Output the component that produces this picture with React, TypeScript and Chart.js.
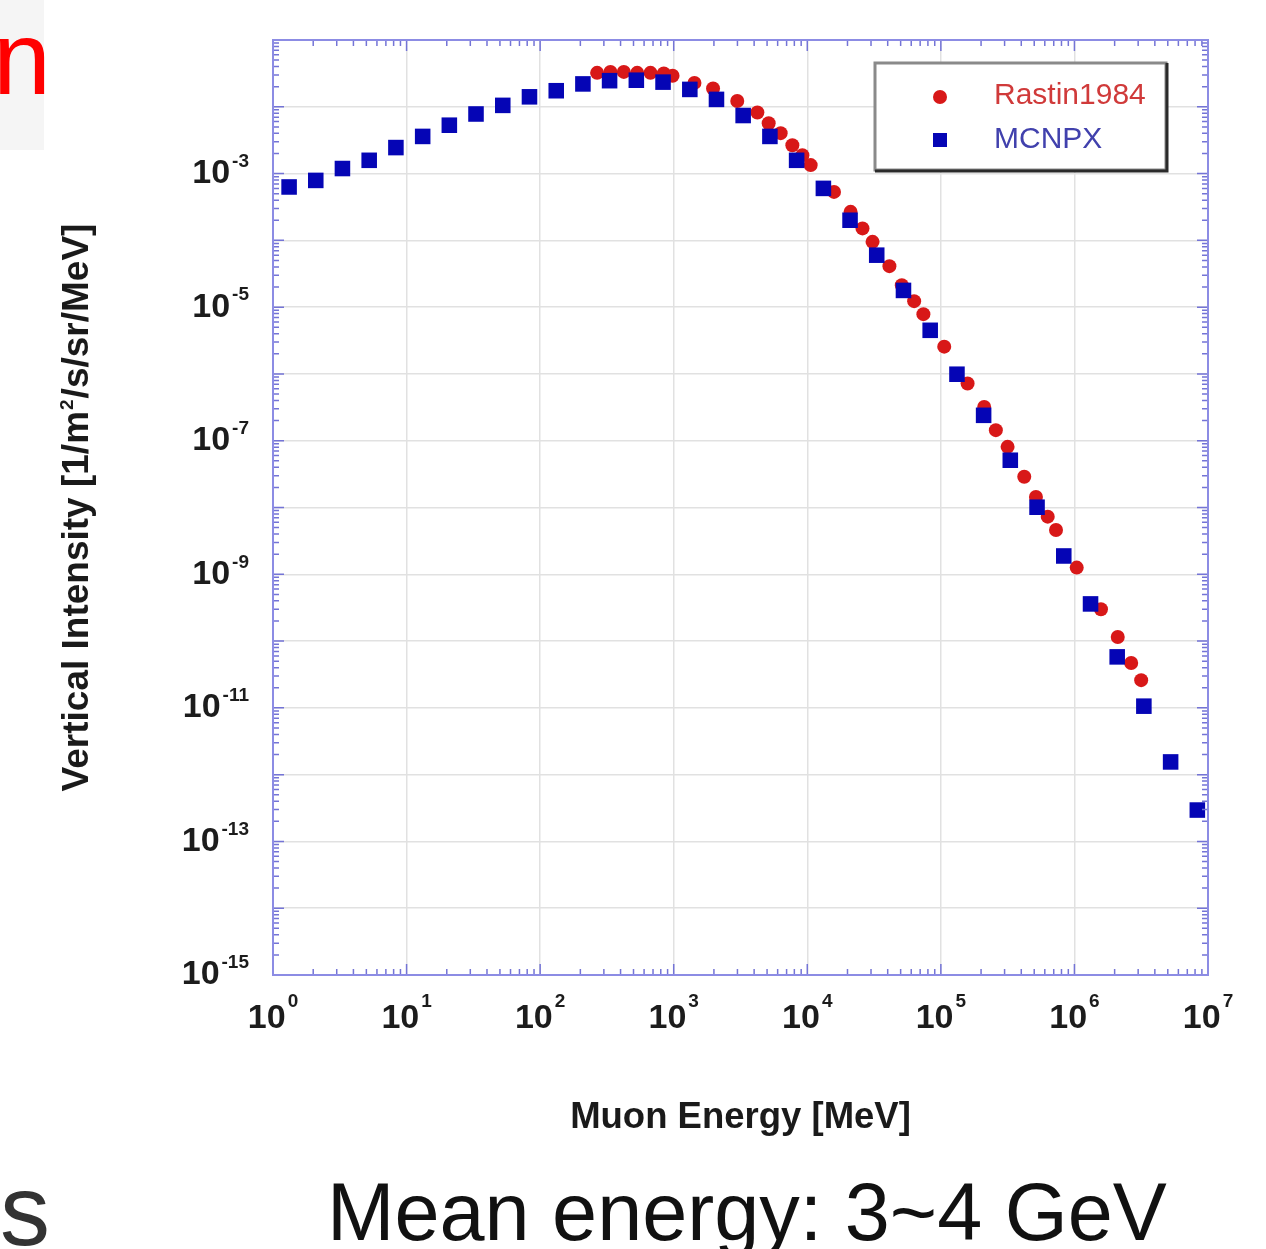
import React, { useEffect, useRef } from "react";
import { Chart, registerables } from "chart.js";

Chart.register(...registerables);

// ---- data ----
const seriesNames = ["Rastin1984", "MCNPX"];

const mcnpxEnergy = [
  1.32, 2.09, 3.31, 5.25, 8.32, 13.2, 20.9, 33.1, 52.5, 83.2, 132, 209, 331, 525, 832,
  1320, 2090, 3310, 5250, 8320, 13200, 20900, 33100, 52500, 83200, 132000, 209000,
  331000, 525000, 832000, 1320000, 2090000, 3310000, 5250000, 8320000,
];
const mcnpxIntensity = [
  6.3e-4, 7.9e-4, 1.19e-3, 1.58e-3, 2.45e-3, 3.6e-3, 5.3e-3, 7.8e-3, 1.05e-2, 1.41e-2,
  1.74e-2, 2.2e-2, 2.46e-2, 2.5e-2, 2.34e-2, 1.82e-2, 1.29e-2, 7.4e-3, 3.6e-3, 1.58e-3,
  6.0e-4, 2.0e-4, 6.0e-5, 1.78e-5, 4.5e-6, 9.9e-7, 2.4e-7, 5.1e-8, 1.01e-8, 1.88e-9,
  3.6e-10, 5.8e-11, 1.06e-11, 1.55e-12, 2.95e-13,
];

const rastinEnergy = [
  267, 336, 423, 533, 670, 843, 980, 1430, 1970, 2990, 4230, 5140, 6320, 7730, 9190,
  10600, 15850, 21100, 25900, 30800, 41200, 51000, 63100, 74000, 106000, 158500, 211000,
  258000, 316000, 421000, 515000, 631000, 728000, 1040000, 1580000, 2110000, 2660000,
  3160000,
];
const rastinIntensity = [
  3.22e-2, 3.33e-2, 3.33e-2, 3.22e-2, 3.22e-2, 3.15e-2, 2.92e-2, 2.28e-2, 1.88e-2,
  1.22e-2, 8.2e-3, 5.67e-3, 4.03e-3, 2.66e-3, 1.88e-3, 1.34e-3, 5.32e-4, 2.67e-4,
  1.51e-4, 9.5e-5, 4.11e-5, 2.13e-5, 1.23e-5, 7.85e-6, 2.56e-6, 7.2e-7, 3.21e-7,
  1.44e-7, 8.1e-8, 2.88e-8, 1.44e-8, 7.3e-9, 4.6e-9, 1.26e-9, 3.0e-10, 1.15e-10,
  4.7e-11, 2.6e-11,
];

const xTickExponents = [0, 1, 2, 3, 4, 5, 6, 7];
const yTickExponents = [-3, -5, -7, -9, -11, -13, -15];
const xGridExponents = [0, 1, 2, 3, 4, 5, 6, 7];
const yGridExponents = [-15, -14, -13, -12, -11, -10, -9, -8, -7, -6, -5, -4, -3, -2, -1];

const xAxisTitle = "Muon Energy [MeV]";
const yAxisTitleParts = ["Vertical Intensity [1/m", "2", "/s/sr/MeV]"];
const footerText = "Mean energy: 3~4 GeV";
const cornerTopText = "n";
const cornerBottomText = "s";

const FONT = '"Liberation Sans", Arial, Helvetica, sans-serif';

const RED = "#d81818";
const BLUE = "#0505b5";

const decorPlugin = {
  id: "decor",
  afterDraw(chart: any) {
    const { ctx, chartArea: ca, scales } = chart;
    const xs = scales.x;
    const ys = scales.y;
    ctx.save();

    // ----- frame ticks (inward, all four sides) -----
    ctx.strokeStyle = "#7474d6";
    ctx.lineWidth = 1.5;
    ctx.beginPath();
    for (let d = 0; d <= 7; d++) {
      for (let m = 1; m <= 9; m++) {
        if (d === 7 && m > 1) break;
        const v = m * Math.pow(10, d);
        const px = xs.getPixelForValue(v);
        const len = m === 1 ? 11 : 6;
        ctx.moveTo(px, ca.bottom);
        ctx.lineTo(px, ca.bottom - len);
        ctx.moveTo(px, ca.top);
        ctx.lineTo(px, ca.top + len);
      }
    }
    for (let d = -15; d <= -1; d++) {
      for (let m = 1; m <= 9; m++) {
        if (d === -1 && m > 1) break;
        const v = m * Math.pow(10, d);
        const py = ys.getPixelForValue(v);
        const len = m === 1 ? 11 : 6;
        ctx.moveTo(ca.left, py);
        ctx.lineTo(ca.left + len, py);
        ctx.moveTo(ca.right, py);
        ctx.lineTo(ca.right - len, py);
      }
    }
    ctx.stroke();

    // ----- frame -----
    ctx.strokeStyle = "#8c8ce4";
    ctx.lineWidth = 2;
    ctx.strokeRect(ca.left, ca.top, ca.right - ca.left, ca.bottom - ca.top);

    // ----- tick labels -----
    ctx.fillStyle = "#1c1c1c";
    const bigTick = `bold 34px ${FONT}`;
    const supTick = `bold 19px ${FONT}`;
    // x
    for (const e of xTickExponents) {
      const px = xs.getPixelForValue(Math.pow(10, e));
      ctx.font = bigTick;
      const w10 = ctx.measureText("10").width;
      ctx.font = supTick;
      const we = ctx.measureText(String(e)).width;
      const start = px - (w10 + 2 + we) / 2;
      ctx.textAlign = "left";
      ctx.textBaseline = "middle";
      ctx.font = bigTick;
      ctx.fillText("10", start, ca.bottom + 44);
      ctx.font = supTick;
      ctx.fillText(String(e), start + w10 + 2, ca.bottom + 27);
    }
    // y
    const yRight = ca.left - 24;
    for (const e of yTickExponents) {
      const py = ys.getPixelForValue(Math.pow(10, e));
      ctx.font = supTick;
      const es = String(e);
      const we = ctx.measureText(es).width;
      ctx.textAlign = "right";
      ctx.textBaseline = "middle";
      ctx.fillText(es, yRight, py - 12);
      ctx.font = bigTick;
      ctx.fillText("10", yRight - we - 2, py);
    }

    // ----- axis titles -----
    ctx.fillStyle = "#1a1a1a";
    ctx.font = `bold 36.5px ${FONT}`;
    ctx.textAlign = "center";
    ctx.textBaseline = "alphabetic";
    ctx.fillText(xAxisTitle, (ca.left + ca.right) / 2, ca.bottom + 153);

    ctx.save();
    ctx.translate(ca.left - 185, (ca.top + ca.bottom) / 2);
    ctx.rotate(-Math.PI / 2);
    const big = `bold 37px ${FONT}`;
    const small = `bold 19px ${FONT}`;
    ctx.font = big;
    const w0 = ctx.measureText(yAxisTitleParts[0]).width;
    const w2 = ctx.measureText(yAxisTitleParts[2]).width;
    ctx.font = small;
    const w1 = ctx.measureText(yAxisTitleParts[1]).width;
    const total = w0 + w1 + w2 + 2;
    let cx = -total / 2;
    ctx.textAlign = "left";
    ctx.font = big;
    ctx.fillText(yAxisTitleParts[0], cx, 0);
    cx += w0 + 1;
    ctx.font = small;
    ctx.fillText(yAxisTitleParts[1], cx, -15);
    cx += w1 + 1;
    ctx.font = big;
    ctx.fillText(yAxisTitleParts[2], cx, 0);
    ctx.restore();

    // ----- legend -----
    const lx = ca.right - 333;
    const ly = ca.top + 23;
    const lw = 291;
    const lh = 107;
    ctx.fillStyle = "#ffffff";
    ctx.fillRect(lx, ly, lw, lh);
    ctx.strokeStyle = "#8a8a8a";
    ctx.lineWidth = 3;
    ctx.strokeRect(lx, ly, lw, lh);
    ctx.strokeStyle = "#2a2a2a";
    ctx.lineWidth = 3;
    ctx.beginPath();
    ctx.moveTo(lx, ly + lh + 1);
    ctx.lineTo(lx + lw + 1, ly + lh + 1);
    ctx.lineTo(lx + lw + 1, ly);
    ctx.stroke();

    ctx.fillStyle = RED;
    ctx.beginPath();
    ctx.arc(lx + 65, ly + 34, 7, 0, Math.PI * 2);
    ctx.fill();
    ctx.fillStyle = BLUE;
    ctx.fillRect(lx + 58, ly + 70, 14, 14);

    ctx.font = `30px ${FONT}`;
    ctx.textAlign = "left";
    ctx.textBaseline = "middle";
    ctx.fillStyle = "#d03a3a";
    ctx.fillText(seriesNames[0], lx + 119, ly + 33);
    ctx.fillStyle = "#4141ad";
    ctx.fillText(seriesNames[1], lx + 119, ly + 77);

    ctx.restore();
  },
};

export default function App() {
  const canvasRef = useRef<HTMLCanvasElement>(null);

  useEffect(() => {
    const canvas = canvasRef.current;
    if (!canvas) return;
    const chart = new Chart(canvas, {
      type: "scatter",
      data: {
        datasets: [
          {
            label: seriesNames[1],
            data: mcnpxEnergy.map((x, i) => ({ x, y: mcnpxIntensity[i] })),
            pointStyle: "rect",
            pointRadius: 11,
            backgroundColor: BLUE,
            borderWidth: 0,
            order: 0,
          },
          {
            label: seriesNames[0],
            data: rastinEnergy.map((x, i) => ({ x, y: rastinIntensity[i] })),
            pointStyle: "circle",
            pointRadius: 7,
            backgroundColor: RED,
            borderWidth: 0,
            order: 1,
          },
        ],
      },
      options: {
        responsive: false,
        animation: false,
        devicePixelRatio: 1,
        events: [],
        layout: { padding: { left: 273, right: 58, top: 40, bottom: 274 } },
        plugins: { legend: { display: false }, tooltip: { enabled: false } },
        scales: {
          x: {
            type: "logarithmic",
            min: 1,
            max: 1e7,
            afterBuildTicks: (s: any) => {
              s.ticks = xGridExponents.map((e) => ({ value: Math.pow(10, e) }));
            },
            ticks: { display: false },
            grid: { color: "#e1e1e1", lineWidth: 1.5, drawTicks: false },
            border: { display: false },
          },
          y: {
            type: "logarithmic",
            min: 1e-15,
            max: 1e-1,
            afterBuildTicks: (s: any) => {
              s.ticks = yGridExponents.map((e) => ({ value: Math.pow(10, e) }));
            },
            ticks: { display: false },
            grid: { color: "#e1e1e1", lineWidth: 1.5, drawTicks: false },
            border: { display: false },
          },
        },
      },
      plugins: [decorPlugin],
    } as any);
    return () => chart.destroy();
  }, []);

  return (
    <div
      style={{
        position: "absolute",
        left: 0,
        top: 0,
        width: 1266,
        height: 1249,
        overflow: "hidden",
        background: "#ffffff",
        fontFamily: FONT,
      }}
    >
      <div
        style={{
          position: "absolute",
          left: 0,
          top: 0,
          width: 44,
          height: 150,
          background: "#f5f5f5",
        }}
      />
      <div
        style={{
          position: "absolute",
          left: -7,
          top: 6,
          fontSize: 104,
          lineHeight: "104px",
          color: "#ff0000",
          whiteSpace: "nowrap",
        }}
      >
        {cornerTopText}
      </div>
      <canvas
        ref={canvasRef}
        width={1266}
        height={1249}
        style={{ position: "absolute", left: 0, top: 0, width: 1266, height: 1249 }}
      />
      <div
        style={{
          position: "absolute",
          left: 0,
          top: 1160,
          fontSize: 100,
          lineHeight: "100px",
          color: "#333333",
          whiteSpace: "nowrap",
        }}
      >
        {cornerBottomText}
      </div>
      <div
        style={{
          position: "absolute",
          left: 327,
          top: 1172,
          fontSize: 81,
          lineHeight: "81px",
          color: "#111111",
          whiteSpace: "nowrap",
        }}
      >
        {footerText}
      </div>
    </div>
  );
}
